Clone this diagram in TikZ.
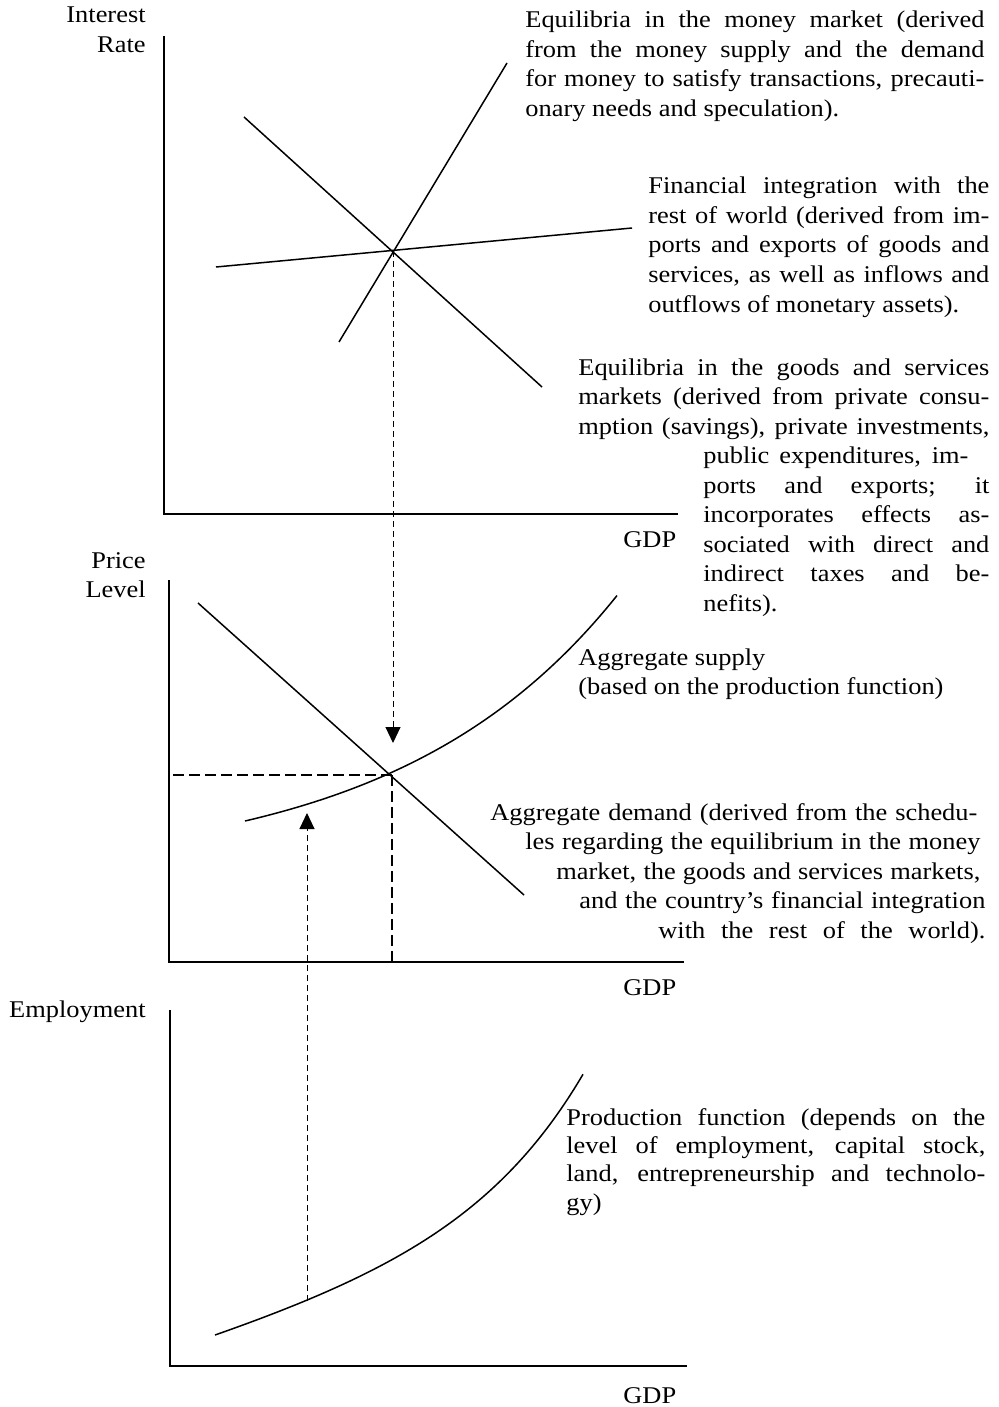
\documentclass[tikz,border=0pt]{standalone}
\usepackage{fontspec}
\setmainfont{Liberation Serif}[FakeStretch=1.1]
\usetikzlibrary{arrows.meta}
\newcommand{\jl}[2]{\makebox[#1][s]{#2}}
\newcommand{\tfs}{\fontsize{12pt}{14.75pt}\selectfont}
\newcommand{\tfsb}{\fontsize{12pt}{14.2pt}\selectfont}
\begin{document}
\begin{tikzpicture}[x=0.5pt,y=-0.5pt,
 axis/.style={line width=1pt},
 curve/.style={line width=0.75pt},
 guide/.style={line width=0.5pt, dash pattern=on 3pt off 2pt},
 guidebold/.style={line width=0.8pt, dash pattern=on 5.5pt off 2.5pt},
 tip/.style={-{Triangle[length=8pt,width=7.5pt]}},
 lbl/.style={inner sep=0pt, font=\tfs},
 para/.style={inner sep=0pt, font=\tfs, anchor=base west},
]
\useasboundingbox (0,0) rectangle (998,1407);

% ---------- axis labels ----------
\node[lbl, anchor=base east] (ir1) at (146,23) {Interest};
\node[lbl, anchor=base east] (ir2) at (146,53) {Rate};
\node[lbl, anchor=base east] (pl1) at (146,568) {Price};
\node[lbl, anchor=base east] (pl2) at (146,597) {Level};
\node[lbl, anchor=base east] (emp) at (146,1017) {Employment};
\node[lbl, anchor=base west] (g1) at (623,547) {GDP};
\node[lbl, anchor=base west] (g2) at (623,995) {GDP};
\node[lbl, anchor=base west] (g3) at (623,1403) {GDP};

% ---------- axes ----------
\draw[axis] (164,36) -- (164,514) -- (678,514);
\draw[axis] (169,580) -- (169,962) -- (684,962);
\draw[axis] (170,1010) -- (170,1366) -- (687,1366);

% ---------- top panel ----------
\draw[curve] (339,342) -- (507,63);
\draw[curve] (244,117) -- (542,387);
\draw[curve] (216,267) -- (632,228);
\coordinate (E1) at (393,251);
\coordinate (T1) at (393,743);
\draw[guide, tip] (E1) -- (T1);

% ---------- middle panel ----------
\draw[curve] (198,603) -- (524,895);
\draw[curve] plot[domain=245:617, samples=80] (\x, {821-52*(exp(0.0045*(\x-245))-1)});
\coordinate (E2) at (392,775);
\coordinate (H2) at (173,775);
\coordinate (B2) at (392,962);
\draw[guidebold] (H2) -- (E2);
\draw[guidebold] (E2) -- (B2);

% ---------- bottom panel ----------
\draw[curve] plot[domain=215:583, samples=80] (\x, {1335-0.3*(\x-215)-5.68*(exp(0.009*(\x-215))-1)});
\coordinate (P3) at (307,1301);
\coordinate (T2) at (307,813);
\draw[guide, tip] (P3) -- (T2);

% ---------- descriptions ----------
\node[para] (mm) at (525,28) {\parbox[t]{229.5pt}{\tfs
\jl{229.5pt}{Equilibria in the money market (derived}\\
\jl{229.5pt}{from the money supply and the demand}\\
\jl{229.5pt}{for money to satisfy transactions, precauti-}\\
onary needs and speculation).}};

\node[para] (fi) at (648,194) {\parbox[t]{170.5pt}{\tfs
\jl{170.5pt}{Financial integration with the}\\
\jl{170.5pt}{rest of world (derived from im-}\\
\jl{170.5pt}{ports and exports of goods and}\\
\jl{170.5pt}{services, as well as inflows and}\\
outflows of monetary assets).}};

\node[para] (gs) at (578,375) {\parbox[t]{205.5pt}{\tfs
\jl{205.5pt}{Equilibria in the goods and services}\\
\jl{205.5pt}{markets (derived from private consu-}\\
\jl{205.5pt}{mption (savings), private investments,}\\
\hspace*{62.5pt}\jl{132.5pt}{public expenditures, im-}\\
\hspace*{62.5pt}\jl{143pt}{ports and exports; it}\\
\hspace*{62.5pt}\jl{143pt}{incorporates effects as-}\\
\hspace*{62.5pt}\jl{143pt}{sociated with direct and}\\
\hspace*{62.5pt}\jl{143pt}{indirect taxes and be-}\\
\hspace*{62.5pt}nefits).}};

\node[para] (as) at (578,665) {\parbox[t]{205.5pt}{\tfs
Aggregate supply\\
(based on the production function)}};

\node[para] (ad) at (490,820) {\parbox[t]{247.5pt}{\tfs
\jl{243.5pt}{Aggregate demand (derived from the schedu-}\\
\hspace*{17.5pt}\jl{227.5pt}{les regarding the equilibrium in the money}\\
\hspace*{33pt}\jl{212pt}{market, the goods and services markets,}\\
\hspace*{44.5pt}\jl{203pt}{and the country’s financial integration}\\
\hspace*{84pt}\jl{163.5pt}{with the rest of the world).}}};

\node[para] (pf) at (566,1125) {\parbox[t]{209.5pt}{\tfsb
\jl{209.5pt}{Production function (depends on the}\\
\jl{209.5pt}{level of employment, capital stock,}\\
\jl{209.5pt}{land, entrepreneurship and technolo-}\\
gy)}};
\end{tikzpicture}
\end{document}
